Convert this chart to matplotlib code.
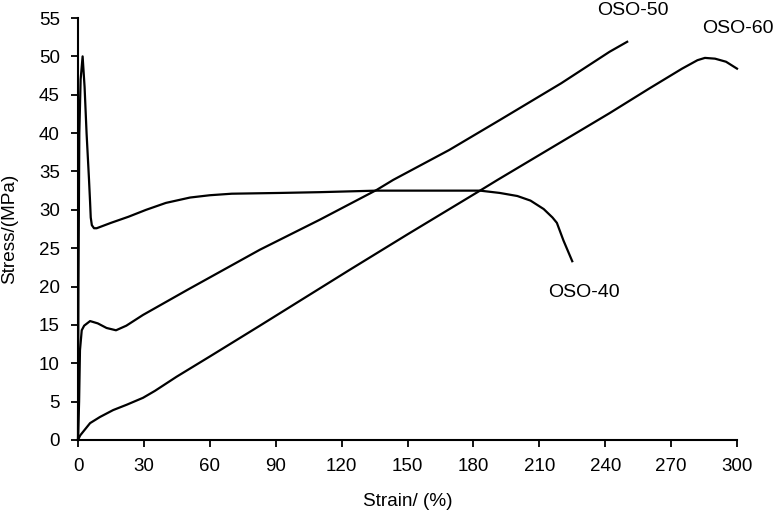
import matplotlib
matplotlib.use("Agg")
import matplotlib.pyplot as plt

plt.rcParams['font.family'] = ['Liberation Sans', 'DejaVu Sans']

# OSO-40
oso40_x = [0, 0.2, 0.6, 1.2, 2.1, 3.0, 3.9, 5.0, 5.5, 5.8, 6.3, 7.3, 8.5, 15, 23, 31, 40, 51, 60, 70, 92, 110, 136, 160, 183, 192, 200, 206, 212, 216, 218, 221, 225]
oso40_y = [0, 20, 40, 47, 50, 46, 40, 34, 31, 29, 28, 27.6, 27.6, 28.3, 29.1, 30.0, 30.9, 31.6, 31.9, 32.1, 32.2, 32.3, 32.5, 32.5, 32.5, 32.2, 31.8, 31.2, 30.1, 29.0, 28.3, 26.0, 23.3]

# OSO-50
oso50_x = [0, 0.5, 0.9, 1.7, 2.8, 5.5, 9, 13, 17.3, 22, 29.6, 50, 82.8, 110, 136, 143.5, 169, 192, 220, 242, 250]
oso50_y = [0, 5, 11.7, 14.3, 14.9, 15.5, 15.2, 14.6, 14.3, 14.9, 16.3, 19.6, 24.8, 28.7, 32.6, 33.9, 37.8, 41.7, 46.5, 50.6, 51.9]

# OSO-60
oso60_x = [0, 1.0, 2.4, 5.5, 10, 16, 22.2, 29.6, 35, 44.9, 60.1, 82.8, 123.8, 150, 183, 191, 242, 260, 275, 282, 285.4, 290, 295, 300]
oso60_y = [0, 0.6, 1.1, 2.2, 3.0, 3.9, 4.6, 5.5, 6.4, 8.25, 10.9, 14.9, 22.2, 26.8, 32.5, 33.9, 42.6, 45.8, 48.4, 49.5, 49.8, 49.7, 49.3, 48.4]

x_ticks = list(range(0, 301, 30))
y_ticks = list(range(0, 56, 5))

fig = plt.figure(figsize=(7.74, 5.19), dpi=100)
ax = fig.add_axes([78/774, 79/519, (737-78)/774, (440-18)/519])

for xs, ys in [(oso40_x, oso40_y), (oso50_x, oso50_y), (oso60_x, oso60_y)]:
    ax.plot(xs, ys, color='black', lw=1.6, solid_joinstyle='round', clip_on=False)

ax.set_xlim(0, 300)
ax.set_ylim(0, 55)
ax.set_xticks(x_ticks)
ax.set_yticks(y_ticks)
for s in ['top', 'right']:
    ax.spines[s].set_visible(False)
for s in ['left', 'bottom']:
    ax.spines[s].set_linewidth(1.5)
ax.tick_params(axis='both', direction='out', length=5, width=1.3, labelsize=13.5, pad=8)

ax.set_xlabel('Strain/ (%)', fontsize=13.7, labelpad=13)
ax.set_ylabel('Stress/(MPa)', fontsize=13.7, labelpad=15)

ax.text(252.6, 56.0, 'OSO-50', fontsize=14, ha='center', va='center', clip_on=False)
ax.text(300.3, 53.6, 'OSO-60', fontsize=14, ha='center', va='center', clip_on=False)
ax.text(230.3, 19.2, 'OSO-40', fontsize=14, ha='center', va='center', clip_on=False)

fig.savefig('out.png', dpi=100)
